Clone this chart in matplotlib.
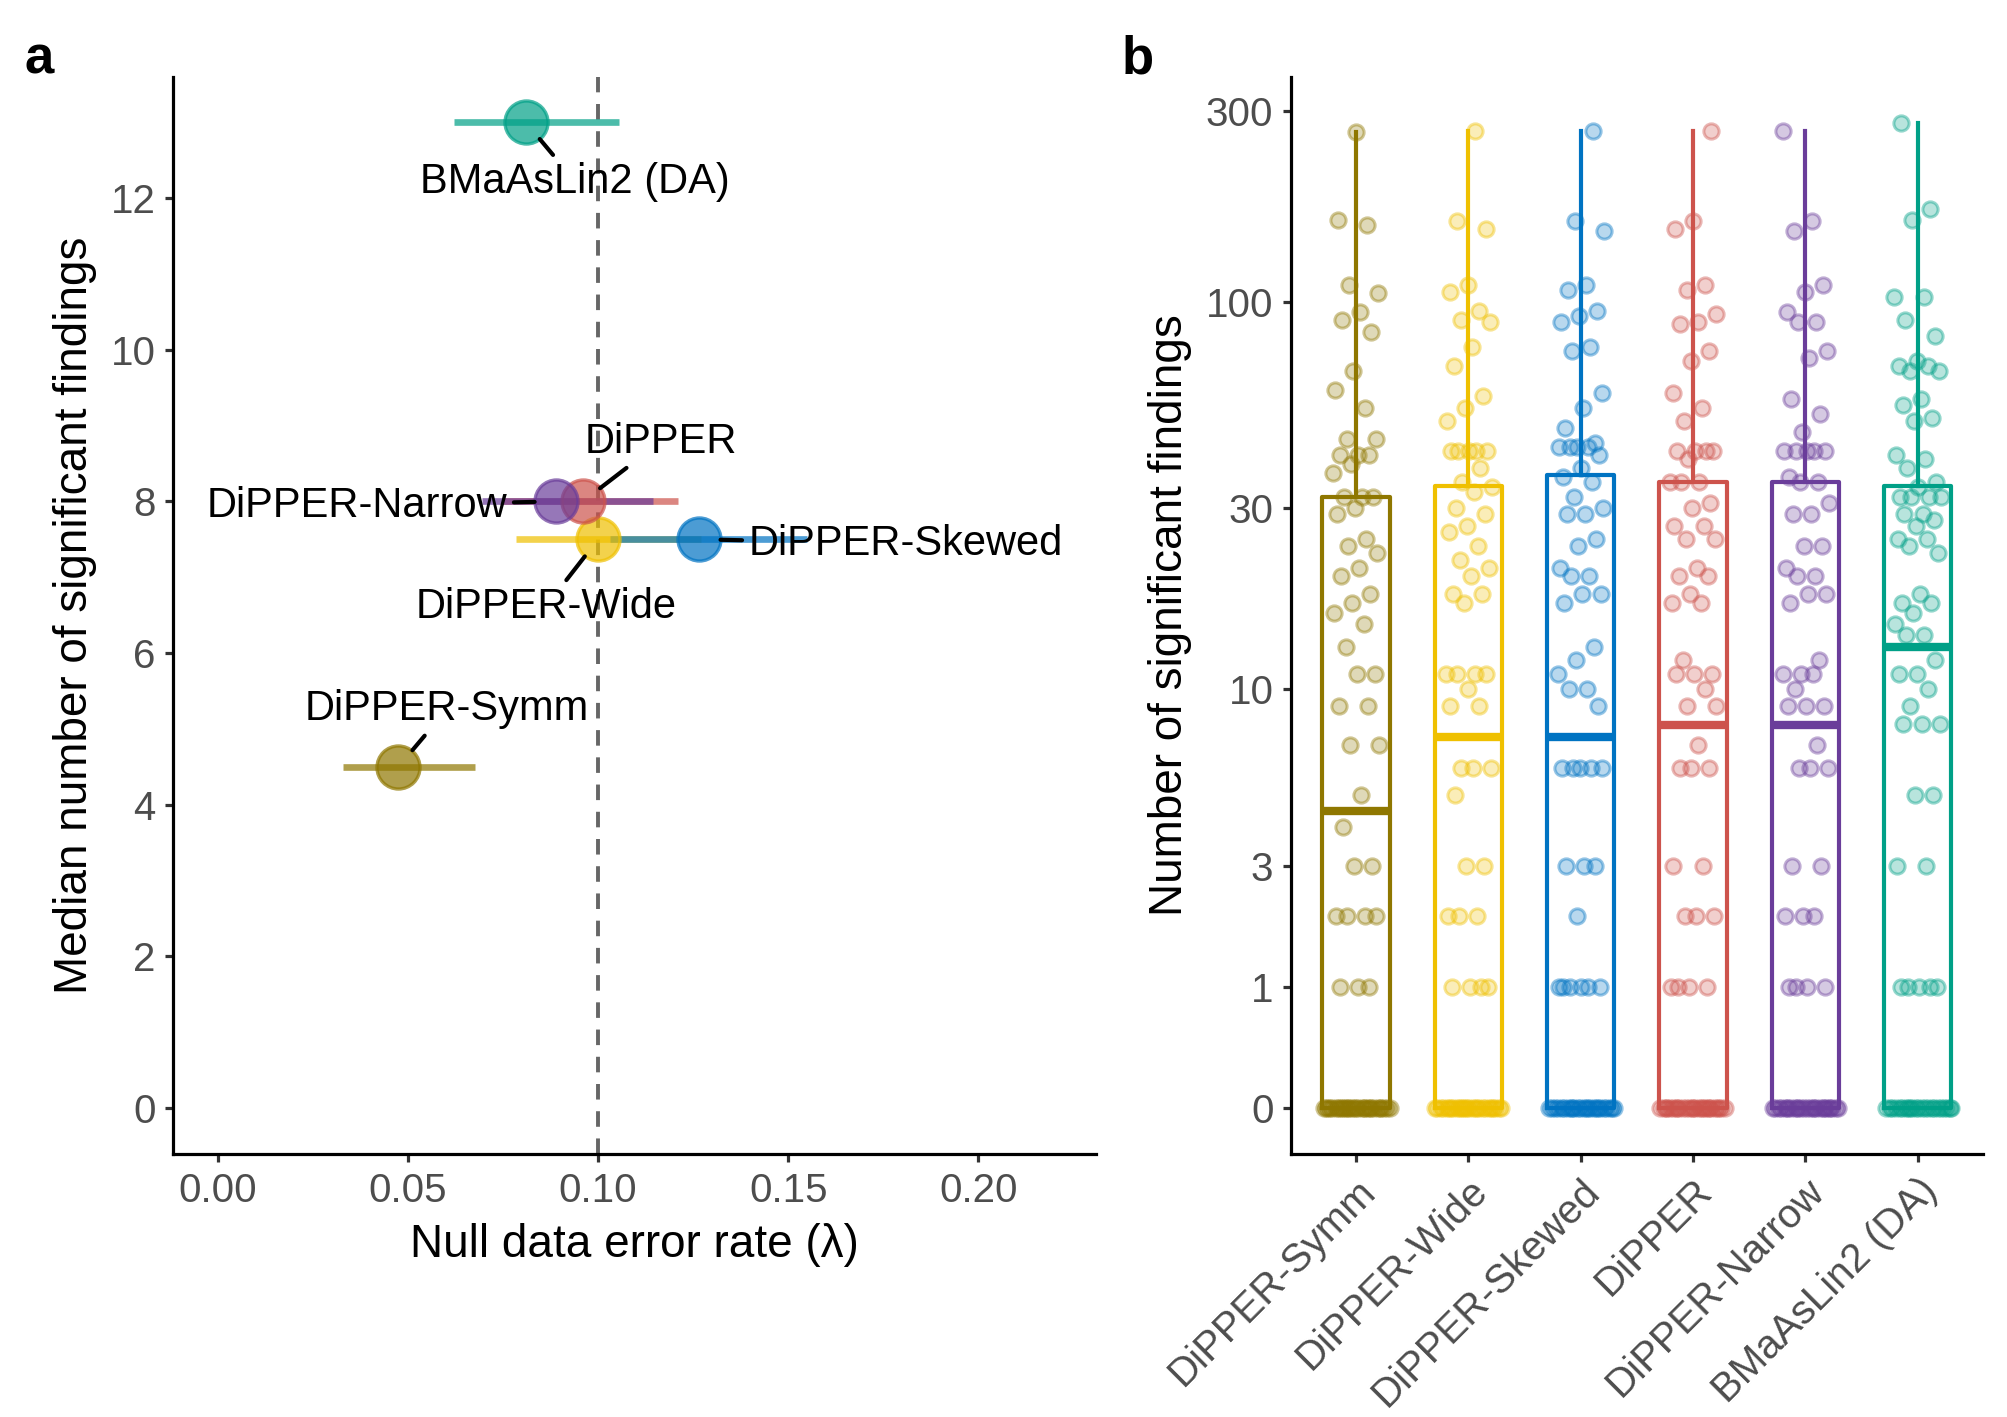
import numpy as np
import matplotlib.pyplot as plt
from matplotlib.colors import to_rgba

plt.rcParams['font.family'] = ['Liberation Sans', 'DejaVu Sans']

# Methoden und Farben
methods = ['DiPPER-Symm', 'DiPPER-Wide', 'DiPPER-Skewed', 'DiPPER', 'DiPPER-Narrow', 'BMaAsLin2 (DA)']
colors = ['#8F7700', '#EFC000', '#0073C2', '#CD534C', '#6A3D9A', '#00A087']

# Panel a: Fehlerrate vs. Median der Treffer
error_rate = [0.0475, 0.100, 0.1265, 0.096, 0.089, 0.081]
error_lo = [0.033, 0.0785, 0.103, 0.075, 0.0695, 0.062]
error_hi = [0.0675, 0.127, 0.155, 0.121, 0.1145, 0.1055]
median_hits = [4.5, 7.5, 7.5, 8, 8, 13]

# Panel b: Anzahl signifikanter Treffer pro Datensatz
symm_hits = [266, 160, 156, 110, 105, 94, 90, 84, 67, 60, 54, 45, 45, 41, 41, 41, 39, 37,
             32, 32, 32, 30, 29, 25, 24, 23, 21, 20, 18, 17, 16, 15, 13, 11, 11, 9, 9, 7, 7,
             5, 4, 3, 3, 2, 2, 2, 2, 1, 1, 1] + [0] * 30
wide_hits = [268, 159, 152, 110, 106, 95, 90, 89, 77, 69, 58, 54, 50, 42, 42, 42, 42, 42,
             38, 35, 34, 33, 30, 29, 27, 26, 24, 22, 21, 20, 18, 18, 17, 11, 11, 11, 11, 10,
             9, 9, 6, 6, 6, 5, 3, 3, 2, 2, 2, 1, 1, 1, 1] + [0] * 27
skewed_hits = [268, 159, 150, 110, 107, 95, 92, 89, 77, 75, 59, 54, 48, 44, 43, 43, 43, 43,
               41, 38, 36, 35, 32, 30, 29, 29, 25, 24, 21, 20, 20, 18, 18, 17, 13, 12, 11,
               10, 10, 9, 6, 6, 6, 6, 6, 3, 3, 3, 2, 1, 1, 1, 1, 1, 1] + [0] * 25
dipper_hits = [267, 159, 152, 110, 107, 93, 89, 88, 75, 71, 59, 54, 50, 42, 42, 42, 42, 40,
               35, 35, 35, 31, 30, 27, 27, 25, 25, 21, 20, 20, 18, 17, 17, 12, 11, 11, 11,
               10, 9, 9, 7, 6, 6, 6, 3, 3, 2, 2, 2, 1, 1, 1, 1] + [0] * 27
narrow_hits = [267, 159, 150, 110, 106, 94, 89, 89, 75, 72, 57, 52, 47, 42, 42, 42, 42, 42,
               36, 35, 35, 31, 29, 29, 24, 24, 21, 20, 20, 18, 18, 17, 12, 11, 11, 11, 10,
               9, 9, 9, 7, 6, 6, 6, 3, 3, 2, 2, 2, 1, 1, 1, 1] + [0] * 27
maaslin_hits = [280, 171, 160, 103, 103, 90, 82, 71, 69, 69, 67, 67, 57, 55, 51, 50, 41, 40,
                38, 35, 34, 32, 32, 32, 32, 29, 29, 28, 27, 25, 25, 24, 23, 18, 17, 17, 16,
                15, 14, 14, 12, 11, 11, 10, 9, 8, 8, 8, 5, 5, 3, 3, 1, 1, 1, 1, 1] + [0] * 23
hits = [symm_hits, wide_hits, skewed_hits, dipper_hits, narrow_hits, maaslin_hits]

# Label-Versatz (ggrepel-artig) relativ zum Punkt
label_dx = [0.0128, -0.0138, 0.0545, 0.0205, -0.0525, 0.013]
label_dy = [0.76, -0.89, -0.06, 0.79, -0.06, -0.78]

tick_col = '#4D4D4D'

fig = plt.figure(figsize=(10.035, 7.085), dpi=200)
ax_a = fig.add_axes([0.0862, 0.1856, 0.4600, 0.7601])
ax_b = fig.add_axes([0.6432, 0.1856, 0.3448, 0.7601])

for ax in (ax_a, ax_b):
    ax.spines['top'].set_visible(False)
    ax.spines['right'].set_visible(False)
    ax.spines['left'].set_linewidth(1.15)
    ax.spines['bottom'].set_linewidth(1.15)
    ax.tick_params(length=2.8, width=1.15, color='#333333', labelcolor=tick_col, labelsize=14.5)

# ---------- Panel a ----------
ax_a.axvline(0.10, color='#666666', lw=1.4, ls=(0, (4, 3)), zorder=1)
for i in range(len(methods)):
    ax_a.plot([error_lo[i], error_hi[i]], [median_hits[i]] * 2, color=colors[i],
              lw=2.4, alpha=0.7, solid_capstyle='butt', zorder=2)
for i in range(len(methods)):
    ax_a.plot(error_rate[i], median_hits[i], 'o', ms=15.5, mfc=colors[i], mec=colors[i],
              alpha=0.7, mew=1.2, zorder=3)
for i in range(len(methods)):
    tx = error_rate[i] + label_dx[i]
    ty = median_hits[i] + label_dy[i]
    ax_a.annotate(methods[i], xy=(error_rate[i], median_hits[i]), xytext=(tx, ty),
                  ha='center', va='center', fontsize=15, color='black', zorder=5,
                  arrowprops=dict(arrowstyle='-', color='black', lw=1.5,
                                  shrinkA=0.5, shrinkB=7.8))
ax_a.set_xlim(-0.0118, 0.231)
ax_a.set_ylim(-0.61, 13.6)
ax_a.set_xticks([0, 0.05, 0.10, 0.15, 0.20])
ax_a.set_xticklabels(['0.00', '0.05', '0.10', '0.15', '0.20'])
ax_a.set_yticks([0, 2, 4, 6, 8, 10, 12])
ax_a.set_xlabel('Null data error rate (λ)', fontsize=16.5, labelpad=5)
ax_a.set_ylabel('Median number of significant findings', fontsize=16.5, labelpad=5)

# ---------- Panel b ----------
fwd = lambda v: np.log10(np.maximum(v, -0.999) + 1)
inv = lambda t: 10 ** t - 1
ax_b.set_yscale('function', functions=(fwd, inv))

stats = []
for vals in hits:
    t = np.log10(np.array(vals, dtype=float) + 1)
    q1, med, q3 = np.percentile(t, [25, 50, 75])
    iqr = q3 - q1
    hi = t[t <= q3 + 1.5 * iqr].max()
    lo = t[t >= q1 - 1.5 * iqr].min()
    stats.append(dict(q1=inv(q1), med=inv(med), q3=inv(q3), whislo=inv(lo), whishi=inv(hi), fliers=[]))

for i, st in enumerate(stats):
    ax_b.bxp([st], positions=[i + 1], widths=0.6, showcaps=False, showfliers=False,
             boxprops=dict(color=colors[i], lw=1.5),
             whiskerprops=dict(color=colors[i], lw=1.5),
             medianprops=dict(color=colors[i], lw=3.0, solid_capstyle='butt'),
             zorder=2)
    vals = np.array(hits[i], dtype=float)
    frac = (np.arange(len(vals)) * 0.6180339887 + 0.5 + 0.13 * i) % 1 - 0.5
    spread = np.where(vals == 0, 0.6, 0.42)
    ax_b.scatter(i + 1 + frac * spread, vals, s=30, facecolor=to_rgba(colors[i], 0.28),
                 edgecolor=to_rgba(colors[i], 0.42), lw=1.1, zorder=3)

ax_b.set_xlim(0.42, 6.58)
ax_b.set_ylim(inv(-0.114), inv(2.563))
ax_b.set_yticks([0, 1, 3, 10, 30, 100, 300])
ax_b.set_yticklabels(['0', '1', '3', '10', '30', '100', '300'])
ax_b.yaxis.set_minor_locator(plt.NullLocator())
ax_b.set_xticks(range(1, 7))
ax_b.set_xticklabels(methods, rotation=45, ha='right', va='top', rotation_mode='anchor')
ax_b.set_ylabel('Number of significant findings', fontsize=16.5, labelpad=5)

fig.text(0.012, 0.958, 'a', fontsize=19, fontweight='bold', va='center')
fig.text(0.559, 0.958, 'b', fontsize=19, fontweight='bold', va='center')

fig.savefig('out.png', dpi=200)
